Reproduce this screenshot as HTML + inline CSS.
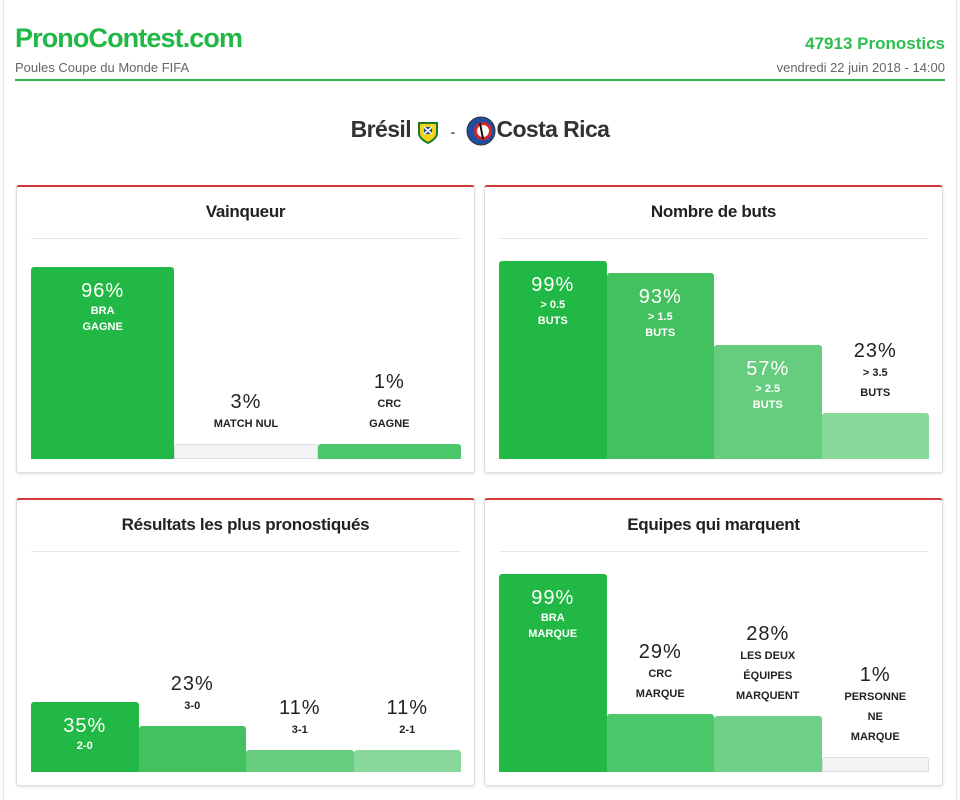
<!DOCTYPE html>
<html><head><meta charset="utf-8">
<style>
*{box-sizing:border-box;margin:0;padding:0}
body{width:960px;height:800px;background:#fff;font-family:"Liberation Sans",sans-serif;position:relative;overflow:hidden}
.frame{position:absolute;left:3px;top:0;width:954px;height:800px;border-left:1px solid #e6e6e6;border-right:1px solid #e6e6e6}
.logo{position:absolute;left:15px;top:23px;font-size:27px;font-weight:bold;color:#22b845;letter-spacing:-0.9px}
.sub{position:absolute;left:15px;top:60px;font-size:13px;color:#666}
.count{position:absolute;right:15px;top:34px;font-size:17px;font-weight:bold;color:#2fbd50}
.date{position:absolute;right:15px;top:60px;font-size:13px;color:#666}
.hr{position:absolute;left:15px;right:15px;top:79px;height:2px;background:#33b54c}
.match{position:absolute;left:0;width:960px;top:116px;text-align:center;font-size:23px;font-weight:bold;color:#333;letter-spacing:-0.6px}
.crest{display:inline-block;vertical-align:middle;width:22px;height:26px}
.card{position:absolute;width:459px;height:288px;border:1px solid #ddd;border-top:2px solid #d23a3a;border-radius:3px;box-shadow:0 1px 3px rgba(0,0,0,.12);background:#fff}
.card h2{position:absolute;left:14px;right:14px;top:15px;height:37px;border-bottom:1px solid #e8e8e8;text-align:center;font-size:17px;font-weight:bold;color:#222;letter-spacing:-0.3px}
.chart{position:absolute;left:14px;width:430px;bottom:13px;height:220px;display:flex;align-items:flex-end}
.col{flex:1;position:relative;height:100%}
.bar{position:absolute;left:0;right:0;bottom:0;border-radius:3px 3px 0 0}
.lbl{position:absolute;left:0;right:0;text-align:center;font-weight:bold;text-transform:uppercase}
.lbl .p{font-size:20px;font-weight:normal;letter-spacing:1px}
.lbl .t{font-size:11px}
</style></head><body>
<div class="frame"></div>
<div class="logo">PronoContest.com</div>
<div class="sub">Poules Coupe du Monde FIFA</div>
<div class="count">47913 Pronostics</div>
<div class="date">vendredi 22 juin 2018 - 14:00</div>
<div class="hr"></div>
<div class="match">Brésil
<svg class="crest" viewBox="0 0 22 26"><path d="M2 5h18v10c0 5-5 8-9 10C7 23 2 20 2 15z" fill="#f3d21b" stroke="#1a7a2f" stroke-width="2"/><path d="M7 9h8v7H7z" fill="#1f4ea0"/><path d="M7 9l8 7M15 9l-8 7" stroke="#fff" stroke-width="1.5"/></svg>
<span style="font-size:14px;color:#666;margin:0 6px">-</span>
<svg class="crest" style="width:30px;height:30px" viewBox="0 0 30 30"><circle cx="15" cy="15" r="14" fill="#1f4ea0" stroke="#333" stroke-width="1"/><circle cx="17" cy="15" r="9" fill="#d5252b"/><circle cx="17" cy="15" r="6" fill="#fff"/><path d="M14 7l3 16" stroke="#111" stroke-width="2"/></svg>Costa Rica</div>

<div class="card" style="left:16px;top:185px"><h2>Vainqueur</h2><div class="chart" id="c1"></div></div>
<div class="card" style="left:484px;top:185px"><h2>Nombre de buts</h2><div class="chart" id="c2"></div></div>
<div class="card" style="left:16px;top:498px"><h2>Résultats les plus pronostiqués</h2><div class="chart" id="c3"></div></div>
<div class="card" style="left:484px;top:498px"><h2>Equipes qui marquent</h2><div class="chart" id="c4"></div></div>

<script>
const vainqueurValues=[96,3,1];
const vainqueurLabels=[["BRA","GAGNE"],["MATCH NUL"],["CRC","GAGNE"]];
const vainqueurColors=["#22b845","#f2f3f5","#4cc86a"];
const butsValues=[99,93,57,23];
const butsLabels=[["> 0.5","BUTS"],["> 1.5","BUTS"],["> 2.5","BUTS"],["> 3.5","BUTS"]];
const butsColors=["#22b845","#44c15f","#66cd7e","#88d89b"];
const resultatsValues=[35,23,11,11];
const resultatsLabels=[["2-0"],["3-0"],["3-1"],["2-1"]];
const resultatsColors=["#22b845","#44c15f","#66cd7e","#88d89b"];
const equipesValues=[99,29,28,1];
const equipesLabels=[["BRA","MARQUE"],["CRC","MARQUE"],["LES DEUX","ÉQUIPES","MARQUENT"],["PERSONNE","NE","MARQUE"]];
const equipesColors=["#22b845","#4cc86a","#6ed086","#f2f3f5"];

function yScale(v){return Math.max(15,v*2);}
function draw(id,vals,labels,colors,prefix){
  const c=document.getElementById(id);
  vals.forEach((v,i)=>{
    const col=document.createElement('div');col.className='col';
    
    
    const b=document.createElement('div');b.className='bar';
    
    
    const h=yScale(v);b.style.height=h+'px';b.style.background=colors[i];
    if(colors[i]==='#f2f3f5')b.style.border='1px solid #ddd';
    col.appendChild(b);
    const l=document.createElement('div');l.className='lbl';
    
    
    const inside=h>=60;
    let html='<div class="p">'+v+'%</div>';
    labels[i].forEach(t=>{html+='<div class="t" style="line-height:'+(inside?16:20)+'px">'+t+'</div>';});
    l.innerHTML=html;
    if(inside){l.style.top=(220-h+13)+'px';l.style.color='#fff';}
    else{l.style.bottom=(h+10)+'px';l.style.color='#222';}
    col.appendChild(l);c.appendChild(col);
  });
}
draw('c1',vainqueurValues,vainqueurLabels,vainqueurColors,'vainqueur');
draw('c2',butsValues,butsLabels,butsColors,'buts');
draw('c3',resultatsValues,resultatsLabels,resultatsColors,'resultats');
draw('c4',equipesValues,equipesLabels,equipesColors,'equipes');
</script>
</body></html>
